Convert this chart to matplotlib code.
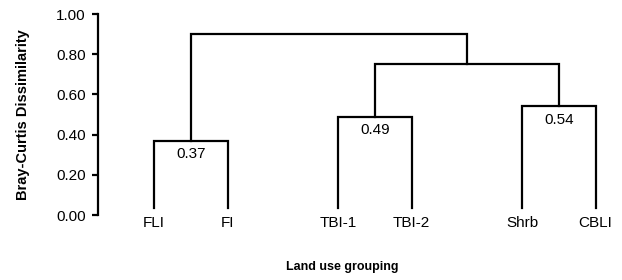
import matplotlib.pyplot as plt

plt.rcParams['font.family'] = ['Liberation Sans', 'DejaVu Sans']

leaves = ['FLI', 'FI', 'TBI-1', 'TBI-2', 'Shrb', 'CBLI']
leaf_pos = [0, 1, 2.5, 3.5, 5, 6]
# merges: (left node, right node, height); nodes 0-5 are leaves, 6+ are merges
merges = [(0, 1, 0.37), (2, 3, 0.49), (4, 5, 0.54), (7, 8, 0.75), (6, 9, 0.90)]
shown = [0.37, 0.49, 0.54]

fig = plt.figure(figsize=(6.22, 2.8), dpi=100)
ax = fig.add_axes([0.158, 0.232, 0.835, 0.718])

xs = list(leaf_pos)
ys = [0.035] * len(leaves)
lw = 1.6
for a, b, h in merges:
    ax.plot([xs[a], xs[a], xs[b], xs[b]], [ys[a], h, h, ys[b]],
            color='black', lw=lw, solid_capstyle='projecting', solid_joinstyle='miter')
    xs.append((xs[a] + xs[b]) / 2)
    ys.append(h)
    if h in shown:
        ax.text((xs[a] + xs[b]) / 2, h - 0.03, '%.2f' % h, ha='center', va='top', fontsize=11)

ax.set_xlim(-0.76, 6.3)
ax.set_ylim(0, 1)
ax.set_yticks([0, 0.2, 0.4, 0.6, 0.8, 1.0])
ax.set_yticklabels(['%.2f' % v for v in [0, 0.2, 0.4, 0.6, 0.8, 1.0]], fontsize=11)
ax.set_xticks(leaf_pos)
ax.set_xticklabels(leaves, fontsize=11)
ax.tick_params(axis='x', length=0, pad=1)
ax.tick_params(axis='y', length=4, width=1.6, pad=5)
for s in ['top', 'right', 'bottom']:
    ax.spines[s].set_visible(False)
ax.spines['left'].set_linewidth(1.6)
ax.set_ylabel('Bray-Curtis Dissimilarity', fontsize=10.5, fontweight='bold')
ax.yaxis.set_label_coords(-0.132, 0.5)
fig.text(342 / 622, 1 - 267 / 280, 'Land use grouping', ha='center', va='center',
         fontsize=9, fontweight='bold')

plt.savefig('out.png', dpi=100)
